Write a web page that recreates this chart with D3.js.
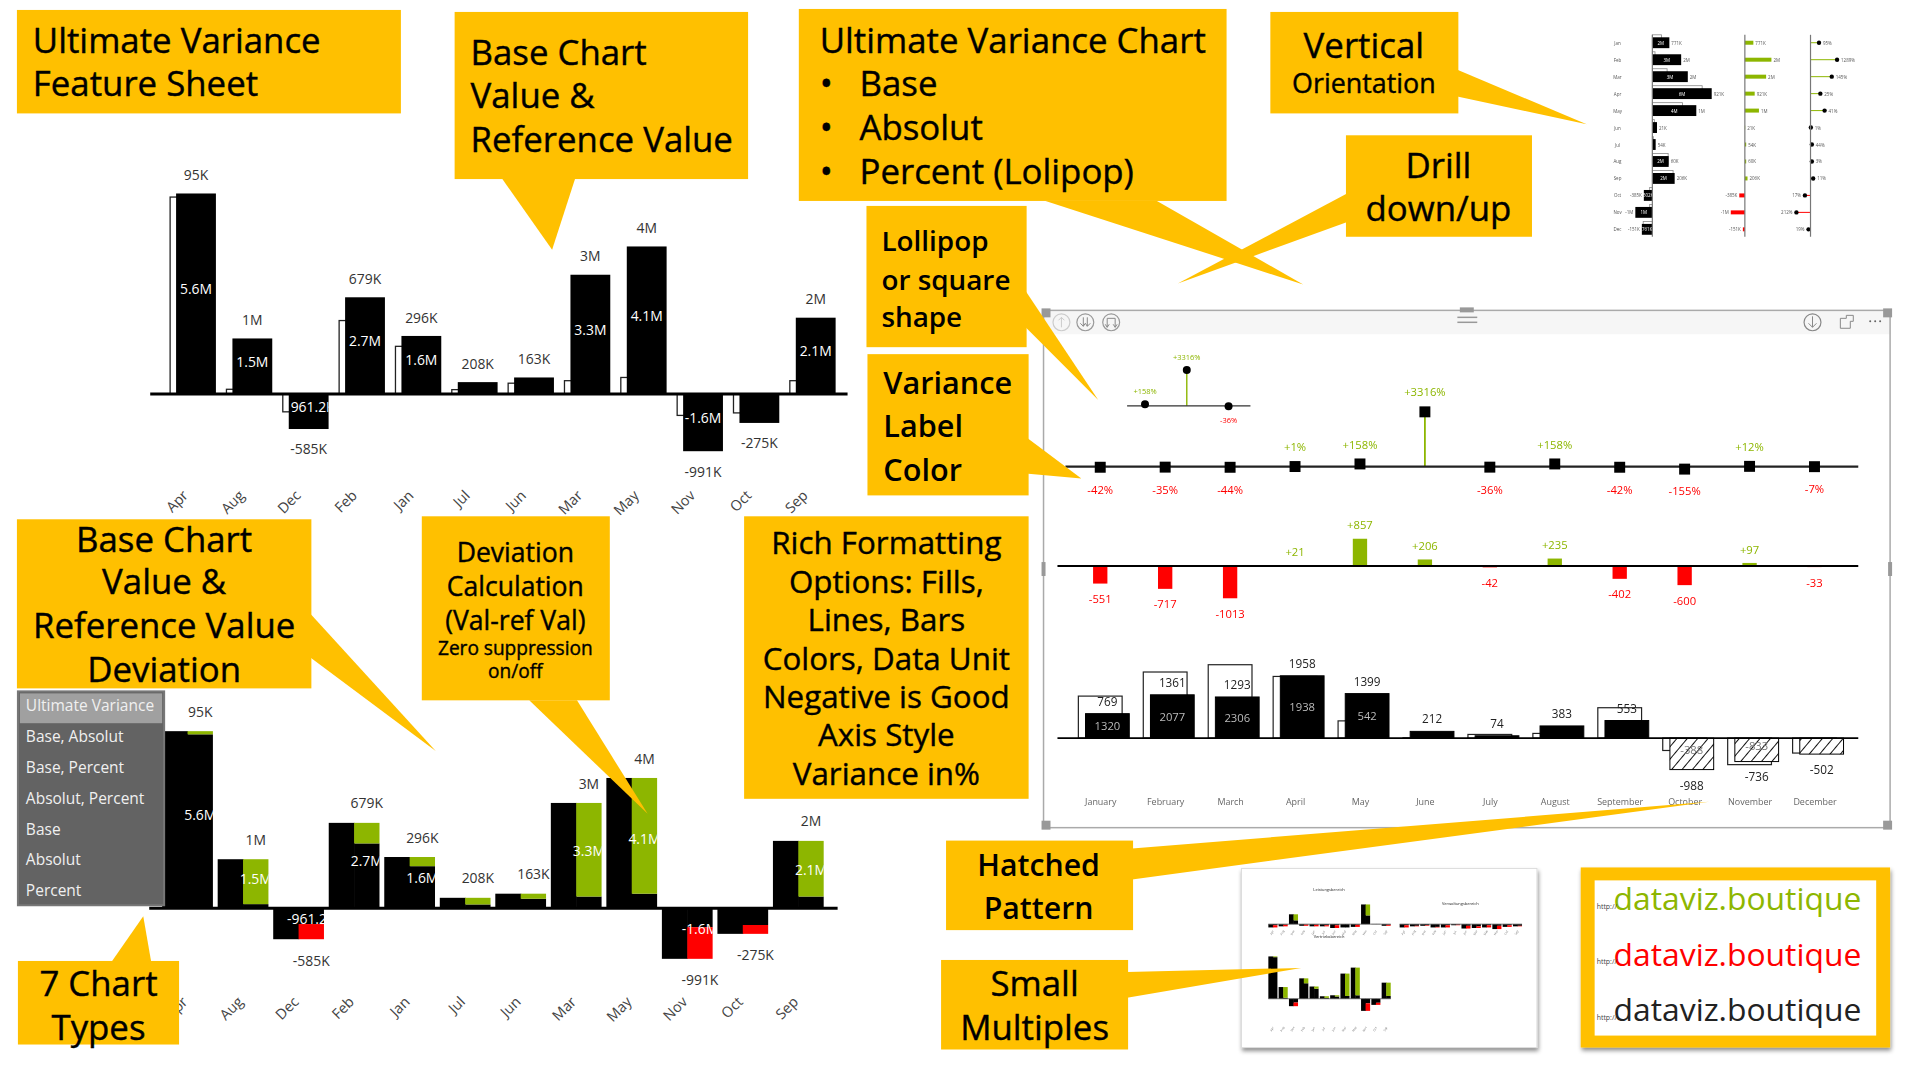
<!DOCTYPE html>
<html>
<head>
<meta charset="utf-8">
<script src="https://cdn.jsdelivr.net/npm/d3@7"></script>
<style>
  html, body { margin: 0; padding: 0; background: #fff; }
  svg { display: block; }
  text { font-family: "Open Sans", "Noto Sans", sans-serif; }
</style>
</head>
<body>
<svg id="chart" width="1910" height="1068" viewBox="0 0 1920 1073.6"></svg>
<script>
// Sales variance charts (values in M), alphabetical months as in the original
const monthsAlpha = ['Apr', 'Aug', 'Dec', 'Feb', 'Jan', 'Jul', 'Jun', 'Mar', 'May', 'Nov', 'Oct', 'Sep'];
const salesValue = [5.6, 1.55, -0.98, 2.7, 1.62, 0.33, 0.46, 3.33, 4.12, -1.6, -0.81, 2.13];
const salesRef = [5.5, 0.13, -0.5, 2.05, 1.33, 0.12, 0.3, 0.37, 0.46, -0.6, -0.53, 0.37];
const salesValueLabels = ['5.6M', '1.5M', '961.2K', '2.7M', '1.6M', '', '', '3.3M', '4.1M', '-1.6M', '', '2.1M'];
const salesValueLabelsLower = ['5.6M', '1.5M', '-961.2K', '2.7M', '1.6M', '', '', '3.3M', '4.1M', '-1.6M', '', '2.1M'];
const salesDevLabels = ['95K', '1M', '-585K', '679K', '296K', '208K', '163K', '3M', '4M', '-991K', '-275K', '2M'];

// Report panel
const monthsFull = ['January', 'February', 'March', 'April', 'May', 'June', 'July', 'August', 'September', 'October', 'November', 'December'];
const panelPercent = [-42, -35, -44, 1, 158, 3316, -36, 158, -42, -155, 12, -7];
const panelAbsolute = [-551, -717, -1013, 21, 857, 206, -42, 235, -402, -600, 97, -33];
const panelValue = [769, 1361, 1293, 1958, 1399, 212, 74, 383, 553, -988, -736, -502];
const panelRef = [1320, 2077, 2306, 1938, 542, 6, 116, 148, 955, -388, -833, -469];
const panelRefLabels = ['1320', '2077', '2306', '1938', '542', '', '', '', '', '-388', '-833', ''];
const insetPercent = [158, 3316, -36];

const menuItems = ['Ultimate Variance', 'Base, Absolut', 'Base, Percent', 'Absolut, Percent', 'Base', 'Absolut', 'Percent'];

// Vertical thumbnail
const monthsShort = ['Jan', 'Feb', 'Mar', 'Apr', 'May', 'Jun', 'Jul', 'Aug', 'Sep', 'Oct', 'Nov', 'Dec'];
const vertValue = [1280, 2170, 2670, 4470, 3310, 350, 250, 1230, 1680, -640, -1280, -790];
const vertRef = [690, 200, 1110, 3750, 2270, 150, 75, 1190, 1560, -200, -200, -690];
const vertAbs = [640, 2000, 1600, 740, 1060, 25, 100, 100, 200, -420, -1060, -150];
const vertAbsLabels = ['771K', '2M', '2M', '921K', '1M', '21K', '54K', '60K', '206K', '-385K', '-1M', '-151K'];
const vertPctLabels = ['95%', '1289%', '145%', '25%', '41%', '1%', '44%', '3%', '11%', '17%', '212%', '19%'];
const vertInnerLabels = ['2M', '3M', '3M', '6M', '4M', '', '', '2M', '2M', '502K', '1M', '761K'];

// Small multiples thumbnail
const miniLeistung = [-0.3, -0.2, 0.9, -0.15, -0.2, -0.2, -0.35, -0.3, -0.25, 1.8, 0.02, -0.15];
const miniLeistungRef = [-0.1, -0.05, 0.35, -0.03, -0.05, -0.1, -0.1, -0.3, -0.05, 0.8, 0.02, -0.05];
const miniVerwaltung = [-0.3, -0.2, -0.15, -0.3, -0.3, -0.1, -0.4, -0.35, -0.3, -0.45, -0.25, -0.2];
const miniVerwaltungRef = [-0.1, -0.15, -0.1, -0.25, -0.1, -0.05, -0.15, -0.2, -0.1, -0.15, -0.1, -0.15];

const GREEN = '#8db600', RED = '#ff0000', GOLD = '#ffc000';
const fmtSigned = v => (v > 0 ? '+' : '') + v;

const svg = d3.select('#chart');
const defs = svg.append('defs');
const hatch = defs.append('pattern').attr('id', 'hatch').attr('patternUnits', 'userSpaceOnUse')
  .attr('width', 8).attr('height', 8).attr('patternTransform', 'rotate(40)');
hatch.append('rect').attr('width', 8).attr('height', 8).attr('fill', '#fff');
hatch.append('line').attr('x1', 0).attr('x2', 0).attr('y1', 0).attr('y2', 8).attr('stroke', '#111').attr('stroke-width', 2);
defs.append('filter').attr('id', 'blur').append('feGaussianBlur').attr('stdDeviation', 0.7);
defs.append('filter').attr('id', 'soft').append('feGaussianBlur').attr('stdDeviation', 0.4);
const shadow = defs.append('filter').attr('id', 'shadow').attr('x', '-5%').attr('y', '-5%').attr('width', '112%').attr('height', '112%');
shadow.append('feDropShadow').attr('dx', 1).attr('dy', 3).attr('stdDeviation', 2).attr('flood-color', '#000').attr('flood-opacity', 0.45);

function rectY(sel, y, get) {
  return sel.attr('y', d => Math.min(y(get(d)), y(0))).attr('height', d => Math.abs(y(get(d)) - y(0)));
}

function monthAxis(parent, x, yPos, months, dx) {
  const g = parent.append('g').attr('transform', `translate(0,${yPos})`)
    .call(d3.axisBottom(x).tickSize(0).tickPadding(0));
  g.select('.domain').remove();
  g.selectAll('text')
    .attr('font-size', 14.5).attr('fill', '#444').attr('text-anchor', 'end')
    .attr('dy', 0).attr('y', 0)
    .attr('transform', `translate(${dx},0) rotate(-45)`);
}

// Top-left chart: base with hollow reference
function drawTopSales() {
  const g = svg.append('g');
  const x = d3.scaleBand().domain(monthsAlpha).range([177, 840]).paddingInner(0.293);
  const y = d3.scaleLinear().domain([0, 5.6]).range([396, 194.5]);
  const rows = monthsAlpha.map((m, i) => ({ m, v: salesValue[i], r: salesRef[i], lab: salesValueLabels[i], dev: salesDevLabels[i] }));

  rectY(g.selectAll('.ref').data(rows).join('rect'), y, d => d.r)
    .attr('x', d => x(d.m) - 6).attr('width', x.bandwidth())
    .attr('fill', '#fff').attr('stroke', '#222').attr('stroke-width', 1.3);
  rectY(g.selectAll('.val').data(rows, d => d.m).enter().append('rect'), y, d => d.v)
    .attr('x', d => x(d.m)).attr('width', x.bandwidth()).attr('fill', '#000');
  g.append('line').attr('x1', 151).attr('x2', 852).attr('y1', y(0)).attr('y2', y(0)).attr('stroke', '#000').attr('stroke-width', 3);

  g.selectAll('.c').data(rows).enter().append('clipPath').attr('id', (d, i) => 'top' + i)
    .append('rect').attr('x', d => x(d.m)).attr('width', x.bandwidth()).attr('y', 150).attr('height', 400);
  g.selectAll('.lab').data(rows).enter().append('text')
    .attr('clip-path', (d, i) => `url(#top${i})`)
    .attr('x', d => x(d.m) + x.bandwidth() / 2 + (d.m === 'Dec' ? 4 : 0))
    .attr('y', d => (y(d.v) + y(0)) / 2 - 5).attr('dominant-baseline', 'central')
    .attr('text-anchor', 'middle').attr('font-size', 14).attr('fill', '#fff').text(d => d.lab);
  g.selectAll('.dev').data(rows).enter().append('text')
    .attr('x', d => x(d.m) + x.bandwidth() / 2)
    .attr('y', d => d.v > 0 ? y(d.v) - 19 : y(d.v) + 20).attr('dominant-baseline', 'central')
    .attr('text-anchor', 'middle').attr('font-size', 14).attr('fill', '#333').text(d => d.dev);
  monthAxis(g, x, 499, monthsAlpha, -7);
}

// Bottom-left chart: base and deviation side by side
function drawLowerSales() {
  const g = svg.append('g');
  const x = d3.scaleBand().domain(monthsAlpha).range([163, 828]).paddingInner(0.086);
  const y = d3.scaleLinear().domain([0, 5.6]).range([913, 735]);
  const rows = monthsAlpha.map((m, i) => ({ m, v: salesValue[i], r: salesRef[i], lab: salesValueLabelsLower[i], dev: salesDevLabels[i] }));
  const half = x.bandwidth() / 2;

  rectY(g.selectAll('.base').data(rows).enter().append('rect'), y, d => d.v)
    .attr('x', d => x(d.m)).attr('width', half + 0.6).attr('fill', '#000');
  rectY(g.selectAll('.ref').data(rows).enter().append('rect'), y, d => d.r)
    .attr('x', d => x(d.m) + half).attr('width', half).attr('fill', '#000');
  g.selectAll('.delta').data(rows).enter().append('rect')
    .attr('x', d => x(d.m) + half).attr('width', half)
    .attr('y', d => Math.min(y(d.v), y(d.r))).attr('height', d => Math.abs(y(d.v) - y(d.r)))
    .attr('fill', d => d.v > 0 ? GREEN : RED);
  g.append('line').attr('x1', 150).attr('x2', 842).attr('y1', y(0)).attr('y2', y(0)).attr('stroke', '#000').attr('stroke-width', 3);

  g.selectAll('.c').data(rows).enter().append('clipPath').attr('id', (d, i) => 'low' + i)
    .append('rect').attr('x', d => x(d.m)).attr('width', x.bandwidth()).attr('y', 700).attr('height', 300);
  g.selectAll('.lab').data(rows).enter().append('text')
    .attr('clip-path', (d, i) => `url(#low${i})`)
    .attr('x', d => x(d.m) + half * 1.5)
    .attr('y', d => (y(d.v) + y(0)) / 2 - 5).attr('dominant-baseline', 'central')
    .attr('text-anchor', 'middle').attr('font-size', 14).attr('fill', '#fff').text(d => d.lab);
  g.selectAll('.dev').data(rows).enter().append('text')
    .attr('x', d => x(d.m) + half * 1.5)
    .attr('y', d => d.v > 0 ? y(d.v) - 20 : y(d.v) + 21).attr('dominant-baseline', 'central')
    .attr('text-anchor', 'middle').attr('font-size', 14).attr('fill', '#333').text(d => d.dev);
  monthAxis(g, x, 1008, monthsAlpha, 1);
}

function drawPanel() {
  const p = svg.append('g').attr('filter', 'url(#soft)');
  const left = 1049, right = 1900, top = 312, bottom = 832;
  p.append('rect').attr('x', left).attr('y', top).attr('width', right - left).attr('height', 24).attr('fill', '#f6f6f6');
  p.append('rect').attr('x', left).attr('y', top).attr('width', right - left).attr('height', bottom - top)
    .attr('fill', 'none').attr('stroke', '#aaa').attr('stroke-width', 1.5);

  // frame handles
  const handles = [[left - 2, top - 2, 9, 9], [right - 7, top - 2, 9, 9], [left - 2, bottom - 7, 9, 9], [right - 7, bottom - 7, 9, 9],
    [(left + right) / 2 - 7, top - 3, 14, 5], [left - 2, 565, 4, 14], [right - 2, 565, 4, 14]];
  p.selectAll('.h').data(handles).enter().append('rect')
    .attr('x', d => d[0]).attr('y', d => d[1]).attr('width', d => d[2]).attr('height', d => d[3]).attr('fill', '#999');
  // header icons: drill up, expand all, next level
  p.selectAll('.icon').data([1067, 1091, 1117]).enter().append('circle')
    .attr('cx', d => d).attr('cy', 324).attr('r', 8.5).attr('fill', 'none').attr('stroke', (d, i) => i ? '#999' : '#ccc').attr('stroke-width', 1.2);
  p.append('path').attr('d', 'M1067 329V319M1064 322L1067 319L1070 322').attr('fill', 'none').attr('stroke', '#ccc');
  p.append('path').attr('d', 'M1089 319V328M1086 325L1089 328L1091 325M1093 319V328M1091 325L1093 328L1096 325').attr('fill', 'none').attr('stroke', '#888');
  p.append('path').attr('d', 'M1113 329V320H1121V329M1111 326L1113 329L1115 326M1119 326L1121 329L1123 326').attr('fill', 'none').attr('stroke', '#888');
  p.append('circle').attr('cx', 1822).attr('cy', 324).attr('r', 8.5).attr('fill', 'none').attr('stroke', '#888').attr('stroke-width', 1.2);
  p.append('path').attr('d', 'M1822 318V329M1818 325L1822 329L1826 325').attr('fill', 'none').attr('stroke', '#888');
  p.append('path').attr('d', 'M1850 320H1856V317H1863V323H1860V330H1850Z').attr('fill', 'none').attr('stroke', '#888');
  p.selectAll('.dot').data([1880, 1885, 1890]).enter().append('circle').attr('cx', d => d).attr('cy', 323).attr('r', 1).attr('fill', '#666');
  p.selectAll('.bar').data([319, 324]).enter().append('line')
    .attr('x1', 1465).attr('x2', 1485).attr('y1', d => d).attr('y2', d => d).attr('stroke', '#999').attr('stroke-width', 1.5);

  const x = d3.scalePoint().domain(monthsFull).range([1106, 1824]);
  const rowsPct = monthsFull.map((m, i) => ({ m, v: panelPercent[i] }));
  const rowsAbs = monthsFull.map((m, i) => ({ m, v: panelAbsolute[i] }));
  const rowsBase = monthsFull.map((m, i) => ({ m, v: panelValue[i], r: panelRef[i], lab: panelRefLabels[i] }));
  const color = v => v > 0 ? GREEN : RED;

  // percent lollipop with square heads
  const yP = d3.scaleLinear().domain([0, 3316]).range([469, 414]);
  p.selectAll('.stem').data(rowsPct).enter().append('line')
    .attr('x1', d => x(d.m)).attr('x2', d => x(d.m)).attr('y1', yP(0)).attr('y2', d => yP(d.v))
    .attr('stroke', d => color(d.v)).attr('stroke-width', 1.8);
  p.append('line').attr('x1', 1071).attr('x2', 1868).attr('y1', yP(0)).attr('y2', yP(0)).attr('stroke', '#222').attr('stroke-width', 2.2);
  p.selectAll('.head').data(rowsPct).enter().append('rect')
    .attr('x', d => x(d.m) - 5.5).attr('y', d => yP(d.v) - 5.5).attr('width', 11).attr('height', 11).attr('fill', '#000');
  p.selectAll('.pl').data(rowsPct).enter().append('text')
    .attr('x', d => x(d.m)).attr('y', d => d.v > 0 ? yP(d.v) - 20 : yP(d.v) + 22).attr('dominant-baseline', 'central')
    .attr('text-anchor', 'middle').attr('font-size', 11.3).attr('fill', d => color(d.v)).text(d => fmtSigned(d.v) + '%');

  // inset showing the round lollipop
  const xI = d3.scalePoint().domain(insetPercent).range([1151, 1235]);
  const yI = d3.scaleLinear().domain([0, 3316]).range([408, 372]);
  p.selectAll('.istem').data(insetPercent).enter().append('line')
    .attr('x1', d => xI(d)).attr('x2', d => xI(d)).attr('y1', yI(0)).attr('y2', d => yI(d)).attr('stroke', d => color(d)).attr('stroke-width', 1.4);
  p.append('line').attr('x1', 1133).attr('x2', 1257).attr('y1', yI(0)).attr('y2', yI(0)).attr('stroke', '#333').attr('stroke-width', 1.5);
  p.selectAll('.ihead').data(insetPercent).enter().append('circle')
    .attr('cx', d => xI(d)).attr('cy', d => yI(d)).attr('r', 4).attr('fill', '#000');
  p.selectAll('.il').data(insetPercent).enter().append('text')
    .attr('x', d => xI(d)).attr('y', d => d > 0 ? yI(d) - 13 : yI(d) + 14).attr('dominant-baseline', 'central')
    .attr('text-anchor', 'middle').attr('font-size', 7.5).attr('fill', d => color(d)).text(d => fmtSigned(d) + '%');

  // absolute bars
  const yA = d3.scaleLinear().domain([0, 1000]).range([569, 537]);
  rectY(p.selectAll('.ab').data(rowsAbs).enter().append('rect'), yA, d => d.v)
    .attr('x', d => x(d.m) - 7.2).attr('width', 14.4).attr('fill', d => color(d.v));
  p.append('line').attr('x1', 1063).attr('x2', 1868).attr('y1', yA(0)).attr('y2', yA(0)).attr('stroke', '#000').attr('stroke-width', 2);
  p.selectAll('.al').data(rowsAbs).enter().append('text')
    .attr('x', d => x(d.m)).attr('y', d => d.v > 0 ? yA(d.v) - 14 : yA(d.v) + 15).attr('dominant-baseline', 'central')
    .attr('text-anchor', 'middle').attr('font-size', 11.3).attr('fill', d => color(d.v)).text(d => fmtSigned(d.v));

  // base bars, hatched where negative
  const yB = d3.scaleLinear().domain([0, 1000]).range([742, 710]);
  rectY(p.selectAll('.br').data(rowsBase).enter().append('rect'), yB, d => d.r)
    .attr('x', d => x(d.m) - 22).attr('width', 44).attr('fill', '#fff').attr('stroke', '#222').attr('stroke-width', 1.2);
  rectY(p.selectAll('.bv').data(rowsBase).enter().append('rect'), yB, d => d.v)
    .attr('x', d => x(d.m) + 7.2 - 22).attr('width', 44)
    .attr('fill', d => d.v > 0 ? '#000' : 'url(#hatch)').attr('stroke', '#000').attr('stroke-width', 1);
  p.append('line').attr('x1', 1063).attr('x2', 1868).attr('y1', yB(0)).attr('y2', yB(0)).attr('stroke', '#000').attr('stroke-width', 2);
  p.selectAll('.bi').data(rowsBase).enter().append('text')
    .attr('x', d => x(d.m) + 7.2).attr('y', d => (yB(d.v) + yB(0)) / 2 + (d.v > 0 ? 0 : -4)).attr('dominant-baseline', 'central')
    .attr('text-anchor', 'middle').attr('font-size', 11.3).attr('fill', d => d.v > 0 ? '#bbb' : '#777').text(d => d.lab);
  p.selectAll('.bt').data(rowsBase).enter().append('text')
    .attr('x', d => x(d.m) + 7.2).attr('y', d => d.v > 0 ? yB(d.v) - 13 : yB(d.v) + 15).attr('dominant-baseline', 'central')
    .attr('text-anchor', 'middle').attr('font-size', 11.8).attr('fill', '#222').text(d => d.v);

  const ax = p.append('g').attr('transform', 'translate(0,806)').call(d3.axisBottom(x).tickSize(0).tickPadding(0));
  ax.select('.domain').remove();
  ax.selectAll('text').attr('font-size', 9).attr('fill', '#666').attr('dominant-baseline', 'central').attr('dy', 0);
}

function drawMenu() {
  const g = svg.append('g');
  g.append('rect').attr('x', 18).attr('y', 695).attr('width', 147).attr('height', 215).attr('fill', '#636363').attr('stroke', '#777').attr('stroke-width', 2);
  g.append('rect').attr('x', 20).attr('y', 697).attr('width', 143).attr('height', 30).attr('fill', '#a0a0a0');
  g.selectAll('text').data(menuItems).enter().append('text')
    .attr('x', 26).attr('y', (d, i) => 709 + i * 31).attr('dominant-baseline', 'central')
    .attr('font-size', 15.6).attr('fill', '#f0f0f0').text(d => d);
}

function drawVerticalThumb() {
  const g = svg.append('g').attr('filter', 'url(#blur)').attr('transform', 'translate(10,0)');
  const y = d3.scaleBand().domain(monthsShort).range([37.5, 236]).paddingInner(0.36);
  const c = m => y(m) + y.bandwidth() / 2;
  const rows = monthsShort.map((m, i) => ({ m, v: vertValue[i], r: vertRef[i], a: vertAbs[i], al: vertAbsLabels[i], pl: vertPctLabels[i], il: vertInnerLabels[i] }));
  const u = 26.7 / 2000;
  const xB = d3.scaleLinear().domain([0, 2000]).range([1651, 1651 + 2000 * u]);
  const xA = d3.scaleLinear().domain([0, 2000]).range([1744, 1744 + 2000 * u]);
  const xP = d3.scaleLinear().domain([0, 2000]).range([1810, 1810 + 2000 * u]);

  g.selectAll('.m').data(rows).enter().append('text').attr('x', 1616).attr('y', d => c(d.m)).attr('dominant-baseline', 'central')
    .attr('text-anchor', 'middle').attr('font-size', 4.5).attr('fill', '#555').text(d => d.m);

  g.selectAll('.r').data(rows).enter().append('rect')
    .attr('x', d => Math.min(xB(d.r), xB(0))).attr('width', d => Math.abs(xB(d.r) - xB(0)))
    .attr('y', d => y(d.m) - 2.5).attr('height', y.bandwidth()).attr('fill', '#fff').attr('stroke', '#888').attr('stroke-width', 0.8);
  g.selectAll('.v').data(rows).enter().append('rect')
    .attr('x', d => Math.min(xB(d.v), xB(0))).attr('width', d => Math.abs(xB(d.v) - xB(0)))
    .attr('y', d => y(d.m)).attr('height', y.bandwidth()).attr('fill', '#000');
  g.selectAll('.il').data(rows).enter().append('text')
    .attr('x', d => (xB(d.v) + xB(0)) / 2).attr('y', d => c(d.m)).attr('dominant-baseline', 'central')
    .attr('text-anchor', 'middle').attr('font-size', 4.5).attr('fill', '#fff').text(d => d.il);
  g.selectAll('.vl').data(rows).enter().append('text')
    .attr('x', d => d.v > 0 ? xB(d.v) + 2 : xB(d.v) - 2).attr('y', d => c(d.m)).attr('dominant-baseline', 'central')
    .attr('text-anchor', d => d.v > 0 ? 'start' : 'end').attr('font-size', 4.5).attr('fill', '#555').text(d => d.al);

  g.selectAll('.a').data(rows).enter().append('rect')
    .attr('x', d => Math.min(xA(d.a), xA(0))).attr('width', d => Math.abs(xA(d.a) - xA(0)))
    .attr('y', d => c(d.m) - 2).attr('height', 4).attr('fill', d => d.a > 0 ? GREEN : RED);
  g.selectAll('.al').data(rows).enter().append('text')
    .attr('x', d => d.a > 0 ? xA(d.a) + 2 : xA(d.a) - 2).attr('y', d => c(d.m)).attr('dominant-baseline', 'central')
    .attr('text-anchor', d => d.a > 0 ? 'start' : 'end').attr('font-size', 4.5).attr('fill', '#555').text(d => d.al);

  g.selectAll('.ps').data(rows).enter().append('line')
    .attr('x1', xP(0)).attr('x2', d => xP(d.a)).attr('y1', d => c(d.m)).attr('y2', d => c(d.m))
    .attr('stroke', d => d.a > 0 ? GREEN : RED).attr('stroke-width', 1);
  g.selectAll('.pd').data(rows).enter().append('circle')
    .attr('cx', d => xP(d.a)).attr('cy', d => c(d.m)).attr('r', 2.2).attr('fill', '#000');
  g.selectAll('.pl').data(rows).enter().append('text')
    .attr('x', d => d.a > 0 ? xP(d.a) + 4 : xP(d.a) - 4).attr('y', d => c(d.m)).attr('dominant-baseline', 'central')
    .attr('text-anchor', d => d.a > 0 ? 'start' : 'end').attr('font-size', 4.5).attr('fill', '#555').text(d => d.pl);

  g.selectAll('.ax').data([1651, 1744, 1810]).enter().append('line')
    .attr('x1', d => d).attr('x2', d => d).attr('y1', 35).attr('y2', 238).attr('stroke', '#777').attr('stroke-width', 1.2);
}

function miniChart(g, title, titleX, titleY, left, baseline, vals, refs, unit, tickY) {
  const x = d3.scaleBand().domain(monthsAlpha).range([left, left + 123]).paddingInner(0.12);
  const y = d3.scaleLinear().domain([0, 1]).range([baseline, baseline - unit]);
  const h = x.bandwidth() / 2;
  const rows = monthsAlpha.map((m, i) => ({ m, v: vals[i], r: refs[i] }));
  rectY(g.selectAll(null).data(rows).enter().append('rect'), y, d => d.v)
    .attr('x', d => x(d.m)).attr('width', h + 0.4).attr('fill', '#000');
  rectY(g.selectAll(null).data(rows).enter().append('rect'), y, d => d.r)
    .attr('x', d => x(d.m) + h).attr('width', h).attr('fill', '#000');
  g.selectAll(null).data(rows).enter().append('rect')
    .attr('x', d => x(d.m) + h).attr('width', h)
    .attr('y', d => Math.min(y(d.v), y(d.r))).attr('height', d => Math.abs(y(d.v) - y(d.r)))
    .attr('fill', d => d.v > 0 ? GREEN : RED);
  g.append('line').attr('x1', left).attr('x2', left + 123).attr('y1', baseline).attr('y2', baseline).attr('stroke', '#555').attr('stroke-width', 0.8);
  g.append('text').attr('x', titleX).attr('y', titleY).attr('text-anchor', 'middle').attr('font-size', 4).attr('fill', '#222').text(title);
  g.selectAll(null).data(monthsAlpha).enter().append('text')
    .attr('transform', d => `translate(${x(d) + h},${tickY}) rotate(-60)`)
    .attr('text-anchor', 'middle').attr('font-size', 3).attr('fill', '#777').text(d => d);
}

function drawSmallMultiples() {
  const box = svg.append('g');
  box.append('rect').attr('x', 1248).attr('y', 873).attr('width', 297).attr('height', 180)
    .attr('fill', '#fff').attr('stroke', '#ddd').attr('filter', 'url(#shadow)');
  const g = svg.append('g').attr('filter', 'url(#blur)');
  miniChart(g, 'Leistungsbereich', 1336, 896, 1275, 929, miniLeistung, miniLeistungRef, 11, 938);
  miniChart(g, 'Verwaltungsbereich', 1468, 910, 1407, 929, miniVerwaltung, miniVerwaltungRef, 11, 938);
  miniChart(g, 'Vertriebsbereich', 1336, 943, 1275, 1004, salesValue, salesRef, 7.6, 1035);
}

function drawLinkBox() {
  const g = svg.append('g');
  g.append('rect').attr('x', 1589).attr('y', 872).attr('width', 311).attr('height', 181).attr('fill', GOLD).attr('filter', 'url(#shadow)');
  g.append('rect').attr('x', 1603).attr('y', 885).attr('width', 283).attr('height', 156).attr('fill', '#fff');
  const colors = [GREEN, RED, '#222'];
  g.selectAll('.big').data(colors).enter().append('text')
    .attr('x', 1622).attr('y', (d, i) => 902 + i * 56).attr('dominant-baseline', 'central')
    .attr('font-size', 32).attr('fill', d => d).text('dataviz.boutique');
  g.selectAll('.small').data(colors).enter().append('text')
    .attr('x', 1605).attr('y', (d, i) => 911 + i * 56).attr('dominant-baseline', 'central')
    .attr('font-size', 7).attr('fill', '#444').text('http://');
}

// Yellow note with its pointer; every line is [text, y, size, x?]
function callout(rect, tail, x, anchor, lines, weight = 400) {
  const g = svg.append('g');
  if (tail) g.append('polygon').attr('points', tail.join(' ')).attr('fill', GOLD);
  g.append('rect').attr('x', rect[0]).attr('y', rect[1]).attr('width', rect[2] - rect[0]).attr('height', rect[3] - rect[1]).attr('fill', GOLD);
  g.selectAll('text').data(lines).enter().append('text')
    .attr('x', d => d[3] !== undefined ? d[3] : x).attr('y', d => d[1]).attr('dominant-baseline', 'central')
    .attr('text-anchor', anchor).attr('font-size', d => d[2]).attr('font-weight', weight)
    .attr('fill', '#000').attr('stroke', '#000').attr('stroke-width', weight > 400 ? 0 : 0.4).text(d => d[0]);
}

drawTopSales();
drawLowerSales();
drawPanel();
drawVerticalThumb();
drawSmallMultiples();
drawLinkBox();
drawMenu();

const T = 35;
callout([17, 10, 403, 114], null, 33, 'start', [['Ultimate Variance', 40, T], ['Feature Sheet', 83, T]]);
callout([457, 12, 752, 180], [[505, 180], [578, 180], [555, 251]], 473, 'start',
  [['Base Chart', 52, T], ['Value &', 95, T], ['Reference Value', 139, T]]);
callout([803, 9, 1233, 202], [[1051, 202], [1163, 202], [1310, 286]], 824, 'start',
  [['Ultimate Variance Chart', 40, T], ['•', 83, T], ['Base', 83, T, 864], ['•', 127, T], ['Absolut', 127, T, 864], ['•', 171, T], ['Percent (Lolipop)', 171, T, 864]]);
callout([1277, 12, 1466, 114], [[1465, 70], [1465, 97], [1595, 125]], 1371, 'middle',
  [['Vertical', 45, T], ['Orientation', 83, 27]]);
callout([1353, 136, 1540, 238], [[1355, 194], [1355, 223], [1184, 285]], 1446, 'middle',
  [['Drill', 165, T], ['down/up', 209, T]]);
callout([871, 207, 1032, 349], [[1030, 291], [1030, 328], [1104, 402]], 886, 'start',
  [['Lollipop', 241, 28], ['or square', 280, 28], ['shape', 318, 28]], 600);
callout([872, 356, 1034, 498], [[1031, 439], [1031, 476], [1087, 481]], 888, 'start',
  [['Variance', 384, 30.8], ['Label', 427, 30.8], ['Color', 471, 30.8]], 600);
callout([748, 519, 1034, 803], null, 891, 'middle',
  [['Rich Formatting', 545, 31.5], ['Options: Fills,', 584, 31.5], ['Lines, Bars', 622, 31.5], ['Colors, Data Unit', 661, 31.5],
   ['Negative is Good', 700, 31.5], ['Axis Style', 738, 31.5], ['Variance in%', 777, 31.5]]);
callout([424, 519, 613, 704], [[532, 704], [580, 704], [651, 818]], 518, 'middle',
  [['Deviation', 555, 26.7], ['Calculation', 589, 26.7], ['(Val-ref Val)', 623, 26.7], ['Zero suppression', 651, 19.2], ['on/off', 675, 19.2]]);
callout([17, 522, 313, 692], [[312, 617], [312, 661], [438, 755]], 165, 'middle',
  [['Base Chart', 541, T], ['Value &', 584, T], ['Reference Value', 628, T], ['Deviation', 672, T]]);
callout([18, 966, 180, 1050], [[112, 967], [152, 967], [144, 921]], 99, 'middle',
  [['7 Chart', 988, T], ['Types', 1032, T]]);
callout([951, 845, 1139, 935], [[1138, 853], [1138, 884], [1718, 806]], 1044, 'middle',
  [['Hatched', 869, 30.4], ['Pattern', 912, 30.4]], 600);
callout([946, 965, 1134, 1055], [[1133, 977], [1133, 1003], [1308, 973]], 1040, 'middle',
  [['Small', 988, T], ['Multiples', 1032, T]]);
</script>
</body>
</html>
